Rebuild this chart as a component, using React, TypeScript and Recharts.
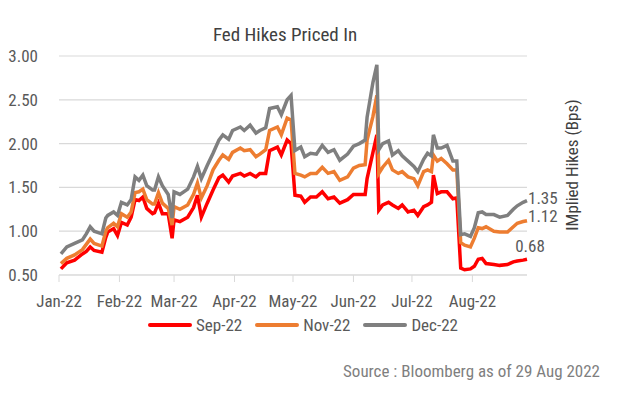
import React from 'react';
import { LineChart, Line, XAxis, YAxis, CartesianGrid, Legend } from 'recharts';

// day offset from 1 Jan 2022
const days = [
  1, 4, 8, 12, 14, 16, 18, 22, 24, 25, 28, 30, 32, 35, 37, 39, 41, 43, 45, 48,
  49, 51, 53, 56, 58, 59, 62, 66, 69, 71, 73, 76, 79, 82, 84, 87, 89, 93, 95, 98,
  101, 103, 106, 108, 112, 114, 117, 119, 121, 124, 126, 129, 132, 135, 138, 141, 144, 148, 151, 154,
  157, 158, 161, 163, 164, 166, 169, 171, 174, 176, 179, 182, 184, 187, 189, 191, 192, 194, 196, 199,
  202, 204, 206, 208, 211, 213, 215, 217, 219, 223, 226, 230, 233, 235, 238, 240,
];

const sep22 = [
  0.57, 0.64, 0.67, 0.74, 0.77, 0.82, 0.78, 0.76, 0.93, 0.99, 1.03, 0.95, 1.1, 1.07, 1.16, 1.36, 1.35, 1.39, 1.26, 1.2,
  1.21, 1.32, 1.2, 1.2, 0.92, 1.13, 1.11, 1.16, 1.27, 1.41, 1.16, 1.32, 1.47, 1.61, 1.64, 1.56, 1.63, 1.66, 1.63, 1.66,
  1.62, 1.66, 1.66, 1.92, 1.96, 1.87, 2.04, 2.0, 1.41, 1.4, 1.33, 1.39, 1.39, 1.45, 1.37, 1.39, 1.32, 1.36, 1.42, 1.42,
  1.42, 1.6, 1.9, 2.1, 1.24, 1.3, 1.33, 1.3, 1.26, 1.3, 1.22, 1.24, 1.18, 1.28, 1.3, 1.33, 1.64, 1.43, 1.45, 1.45,
  1.37, 1.38, 0.58, 0.56, 0.57, 0.6, 0.68, 0.69, 0.63, 0.62, 0.61, 0.62, 0.65, 0.66, 0.67, 0.68,
];

const nov22 = [
  0.63, 0.69, 0.73, 0.79, 0.85, 0.91, 0.86, 0.83, 1.0, 1.04, 1.09, 1.05, 1.2, 1.16, 1.22, 1.44, 1.45, 1.48, 1.36, 1.31,
  1.31, 1.44, 1.32, 1.26, 1.07, 1.28, 1.25, 1.3, 1.42, 1.55, 1.38, 1.52, 1.7, 1.81, 1.87, 1.82, 1.9, 1.95, 1.92, 1.93,
  1.85, 1.88, 1.93, 2.15, 2.19, 2.1, 2.29, 2.27, 1.66, 1.64, 1.62, 1.66, 1.66, 1.73, 1.66, 1.68, 1.58, 1.62, 1.72, 1.75,
  1.76, 2.04, 2.31, 2.55, 1.66, 1.73, 1.81, 1.7, 1.66, 1.68, 1.62, 1.6, 1.52, 1.68, 1.7, 1.68, 1.87, 1.8, 1.83, 1.77,
  1.7, 1.7, 0.87, 0.84, 0.82, 0.92, 1.04, 1.03, 1.05, 1.0, 0.99, 0.99, 1.05, 1.09, 1.11, 1.12,
];

const dec22 = [
  0.74, 0.82, 0.86, 0.9, 0.97, 1.05, 1.0, 0.97, 1.15, 1.18, 1.22, 1.18, 1.33, 1.3, 1.36, 1.62, 1.58, 1.64, 1.52, 1.47,
  1.47, 1.62, 1.52, 1.42, 1.15, 1.45, 1.42, 1.48, 1.62, 1.74, 1.6, 1.75, 1.89, 2.04, 2.1, 2.05, 2.15, 2.19, 2.15, 2.21,
  2.12, 2.15, 2.18, 2.4, 2.42, 2.33, 2.5, 2.55, 1.92, 1.96, 1.85, 1.89, 1.88, 1.98, 1.9, 1.93, 1.81, 1.88, 1.97, 2.0,
  2.04, 2.3, 2.7, 2.9, 1.93, 2.0, 2.03, 1.87, 1.92, 1.86, 1.8, 1.74, 1.68, 1.82, 1.89, 1.86, 2.1, 1.95, 1.95, 1.98,
  1.8, 1.8, 0.96, 0.97, 0.94, 1.04, 1.21, 1.22, 1.19, 1.19, 1.16, 1.18, 1.25, 1.29, 1.33, 1.35,
];

const monthTicks = [0, 31, 59, 90, 120, 151, 181, 212];
const monthLabels = ['Jan-22', 'Feb-22', 'Mar-22', 'Apr-22', 'May-22', 'Jun-22', 'Jul-22', 'Aug-22'];
const yTicks = [0.5, 1.0, 1.5, 2.0, 2.5, 3.0];

const series = [
  { key: 'sep', name: 'Sep-22', color: '#FF0000', endDx: 3, endDy: -13, anchor: 'middle' },
  { key: 'nov', name: 'Nov-22', color: '#ED7D31', endDx: 1, endDy: -5, anchor: 'start' },
  { key: 'dec', name: 'Dec-22', color: '#7F7F7F', endDx: 1, endDy: -3, anchor: 'start' },
];

const data = days.map((d, i) => ({ day: d, sep: sep22[i], nov: nov22[i], dec: dec22[i] }));

const FONT = "'Roboto Condensed', Roboto, sans-serif";
const lastIdx = days.length - 1;

const endLabel = (s: typeof series[number]) => (props: any) => {
  const { x, y, index, value } = props;
  if (index !== lastIdx) return null;
  return (
    <text
      x={x + s.endDx}
      y={y + s.endDy}
      textAnchor={s.anchor}
      dominantBaseline="central"
      fontSize={17}
      fontFamily={FONT}
      fill="#595959"
    >
      {Number(value).toFixed(2)}
    </text>
  );
};

const LegendContent = () => (
  <div style={{ display: 'flex', alignItems: 'center', fontFamily: FONT, fontSize: 17, color: '#595959' }}>
    {series.map(s => (
      <div key={s.key} style={{ display: 'flex', alignItems: 'center', marginRight: 13 }}>
        <span style={{ display: 'inline-block', width: 44, height: 4, borderRadius: 2, background: s.color, marginRight: 4 }} />
        <span>{s.name}</span>
      </div>
    ))}
  </div>
);

export default function App() {
  return (
    <div style={{ position: 'relative', width: 608, height: 382 }}>
      <div
        style={{
          position: 'absolute', left: 0, width: 554, top: 15, textAlign: 'center',
          fontFamily: FONT, fontSize: 19, color: '#404040',
        }}
      >
        Fed Hikes Priced In
      </div>
      <LineChart width={608} height={382} data={data} margin={{ top: 48, right: 89, bottom: 85, left: 0 }}>
        <CartesianGrid vertical={false} stroke="#D9D9D9" strokeWidth={1.2} />
        <XAxis
          dataKey="day"
          type="number"
          domain={[0, 240]}
          ticks={monthTicks}
          tickFormatter={(v: number) => monthLabels[monthTicks.indexOf(v)]}
          height={30}
          stroke="#D9D9D9"
          tickSize={7}
          tickMargin={13}
          tick={{ fill: '#595959', fontSize: 17, fontFamily: FONT }}
        />
        <YAxis
          domain={[0.5, 3]}
          ticks={yTicks}
          width={51}
          axisLine={false}
          tickLine={false}
          tickSize={0}
          tickMargin={21}
          tickFormatter={(v: number) => v.toFixed(2)}
          tick={{ fill: '#595959', fontSize: 17, fontFamily: FONT }}
        />
        <Legend
          layout="horizontal"
          verticalAlign="middle"
          align="center"
          content={<LegendContent />}
          wrapperStyle={{ left: 140, top: 307, width: 340 }}
        />
        {series.map(s => (
          <Line
            key={s.key}
            dataKey={s.key}
            name={s.name}
            stroke={s.color}
            strokeWidth={3.5}
            dot={false}
            isAnimationActive={false}
            label={endLabel(s)}
          />
        ))}
      </LineChart>
      <div
        style={{
          position: 'absolute', left: 564, top: 157, transform: 'translate(-50%, -50%) rotate(-90deg)',
          whiteSpace: 'nowrap', fontFamily: FONT, fontSize: 17, color: '#404040',
        }}
      >
        IMplied Hikes (Bps)
      </div>
      <div
        style={{
          position: 'absolute', right: 16, top: 353, whiteSpace: 'nowrap',
          fontFamily: FONT, fontSize: 17, color: '#7F7F7F',
        }}
      >
        Source : Bloomberg as of 29 Aug 2022
      </div>
    </div>
  );
}
